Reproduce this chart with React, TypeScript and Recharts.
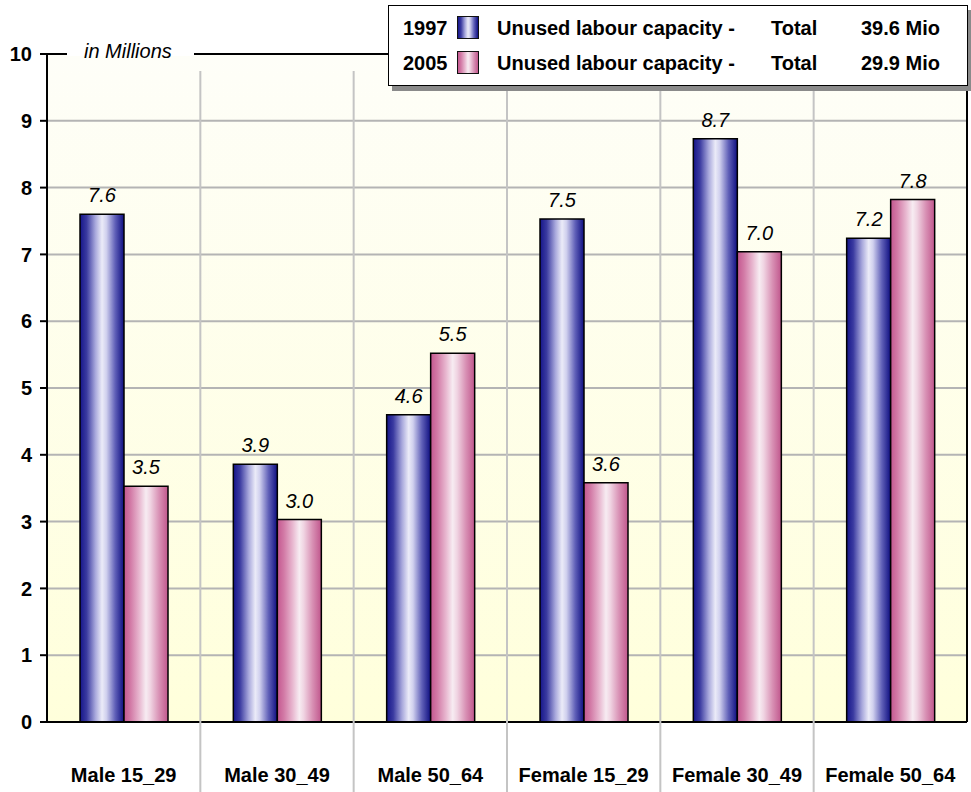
import { BarChart, Bar, XAxis, YAxis, CartesianGrid, ReferenceLine, LabelList, Legend } from 'recharts'

const CATEGORIES = ['Male 15_29', 'Male 30_49', 'Male 50_64', 'Female 15_29', 'Female 30_49', 'Female 50_64']
const VALUES_1997 = [7.6, 3.86, 4.6, 7.53, 8.73, 7.24]
const VALUES_2005 = [3.53, 3.03, 5.52, 3.58, 7.04, 7.82]
const Y_TICKS = [0, 1, 2, 3, 4, 5, 6, 7, 8, 9, 10]
const LEGEND_YEARS = ['1997', '2005']
const LEGEND_TOTALS = ['39.6 Mio', '29.9 Mio']
const SERIES_TEXT = 'Unused labour capacity -'
const TOTAL_TEXT = 'Total'
const UNIT_TEXT = 'in Millions'

const FONT = "Arial, 'Liberation Sans', sans-serif"
const CHART_W = 971
const CHART_H = 792
const LEFT_AXIS_W = 47
const RIGHT_AXIS_W = 4
const BAND = (CHART_W - LEFT_AXIS_W - RIGHT_AXIS_W) / CATEGORIES.length
const SEP_TOP = 71

const data = CATEGORIES.map((name, i) => ({
  name,
  v1997: VALUES_1997[i],
  v2005: VALUES_2005[i],
}))

const BLUE_GRAD = 'linear-gradient(to right, #15158a 0%, #3a3aa0 15%, #a8a8dc 35%, #ebebf8 50%, #d0d0ee 60%, #6060b8 80%, #0e0e80 100%)'
const PINK_GRAD = 'linear-gradient(to right, #c4578f 0%, #d27aa6 15%, #e8b8d0 35%, #f7ecf2 50%, #f0d4e2 60%, #d890b4 80%, #c0568c 100%)'
const SWATCHES = [BLUE_GRAD, PINK_GRAD]

const CategoryTick = ({ x, y, payload, index }: any) => {
  const i = index ?? payload?.index ?? 0
  const left = x - BAND / 2
  return (
    <g>
      {i > 0 && (
        <line x1={left} x2={left} y1={SEP_TOP} y2={CHART_H} stroke="#c4c4c4" strokeWidth={2} />
      )}
      <text x={x} y={y + 60} textAnchor="middle" fontFamily={FONT} fontWeight="bold" fontSize={20} fill="#000">
        {payload.value}
      </text>
    </g>
  )
}

const MillionsLabel = ({ viewBox }: any) => {
  const { x, y } = viewBox
  return (
    <g>
      <rect x={x + 20} y={y - 11} width={127} height={13} fill="#fff" />
      <text x={x + 37} y={y + 4} fontFamily={FONT} fontStyle="italic" fontSize={20} fill="#000">
        {UNIT_TEXT}
      </text>
    </g>
  )
}

const renderValueLabel = ({ x, y, width, value }: any) => (
  <text
    x={Number(x) + Number(width) / 2}
    y={Number(y) - 12}
    textAnchor="middle"
    fontFamily={FONT}
    fontStyle="italic"
    fontSize={20}
    fill="#000"
  >
    {Number(value).toFixed(1)}
  </text>
)

const LegendBox = () => (
  <div
    style={{
      position: 'relative',
      width: 580,
      height: 81,
      boxSizing: 'border-box',
      border: '1.5px solid #000',
      background: '#fff',
      boxShadow: '4px 5px 0 #8a8a8a',
      fontFamily: FONT,
      fontWeight: 'bold',
      fontSize: 20,
      color: '#000',
    }}
  >
    {LEGEND_YEARS.map((year, i) => {
      const top = 7 + i * 35
      const cell = { position: 'absolute' as const, top, height: 30, lineHeight: '30px', whiteSpace: 'nowrap' as const }
      return (
        <div key={year}>
          <span style={{ ...cell, left: 14 }}>{year}</span>
          <span
            style={{
              position: 'absolute',
              left: 68,
              top: top + 3,
              width: 22,
              height: 23,
              boxSizing: 'border-box',
              border: '1.5px solid #111',
              background: SWATCHES[i],
            }}
          />
          <span style={{ ...cell, left: 108 }}>{SERIES_TEXT}</span>
          <span style={{ ...cell, left: 382 }}>{TOTAL_TEXT}</span>
          <span style={{ ...cell, left: 472 }}>{LEGEND_TOTALS[i]}</span>
        </div>
      )
    })}
  </div>
)

export default function App() {
  return (
    <div style={{ position: 'absolute', left: 0, top: 0, width: CHART_W, height: CHART_H, background: '#fff' }}>
      <BarChart
        width={CHART_W}
        height={CHART_H}
        data={data}
        margin={{ top: 54, right: 0, bottom: 0, left: 0 }}
        barGap={0}
      >
        <defs>
          <linearGradient id="plotBg" x1="0" y1="0" x2="0" y2="1">
            <stop offset="0%" stopColor="#fefef8" />
            <stop offset="100%" stopColor="#ffffdb" />
          </linearGradient>
          <linearGradient id="barBlue" x1="0" y1="0" x2="1" y2="0">
            <stop offset="0%" stopColor="#15158a" />
            <stop offset="15%" stopColor="#3a3aa0" />
            <stop offset="35%" stopColor="#a8a8dc" />
            <stop offset="50%" stopColor="#ebebf8" />
            <stop offset="60%" stopColor="#d0d0ee" />
            <stop offset="80%" stopColor="#6060b8" />
            <stop offset="100%" stopColor="#0e0e80" />
          </linearGradient>
          <linearGradient id="barPink" x1="0" y1="0" x2="1" y2="0">
            <stop offset="0%" stopColor="#c4578f" />
            <stop offset="15%" stopColor="#d27aa6" />
            <stop offset="35%" stopColor="#e8b8d0" />
            <stop offset="50%" stopColor="#f7ecf2" />
            <stop offset="60%" stopColor="#f0d4e2" />
            <stop offset="80%" stopColor="#d890b4" />
            <stop offset="100%" stopColor="#c0568c" />
          </linearGradient>
        </defs>
        <CartesianGrid
          vertical={false}
          fill="url(#plotBg)"
          fillOpacity={1}
          stroke="#b4b4b4"
          strokeWidth={2}
        />
        <XAxis
          dataKey="name"
          height={CHART_H - 722}
          interval={0}
          tickLine={false}
          tickSize={0}
          tickMargin={0}
          axisLine={{ stroke: '#000', strokeWidth: 2 }}
          tick={<CategoryTick />}
        />
        <YAxis
          width={LEFT_AXIS_W}
          domain={[0, 10]}
          ticks={Y_TICKS}
          interval={0}
          tickSize={7}
          tickMargin={8}
          axisLine={{ stroke: '#000', strokeWidth: 2 }}
          tickLine={{ stroke: '#000', strokeWidth: 2 }}
          tick={{ fill: '#000', fontSize: 20, fontWeight: 'bold', fontFamily: FONT }}
        />
        <YAxis
          yAxisId="right"
          orientation="right"
          width={RIGHT_AXIS_W}
          domain={[0, 10]}
          tick={false}
          tickLine={false}
          axisLine={{ stroke: '#000', strokeWidth: 2 }}
        />
        <ReferenceLine y={10} stroke="#000" strokeWidth={2} label={<MillionsLabel />} />
        <Bar dataKey="v1997" fill="url(#barBlue)" stroke="#000" strokeWidth={1.5} barSize={44} isAnimationActive={false}>
          <LabelList dataKey="v1997" content={renderValueLabel} />
        </Bar>
        <Bar dataKey="v2005" fill="url(#barPink)" stroke="#000" strokeWidth={1.5} barSize={44} isAnimationActive={false}>
          <LabelList dataKey="v2005" content={renderValueLabel} />
        </Bar>
        <Legend
          layout="horizontal"
          verticalAlign="middle"
          align="center"
          content={<LegendBox />}
          wrapperStyle={{ left: 388, top: 5, width: 580, height: 81 }}
        />
      </BarChart>
    </div>
  )
}
